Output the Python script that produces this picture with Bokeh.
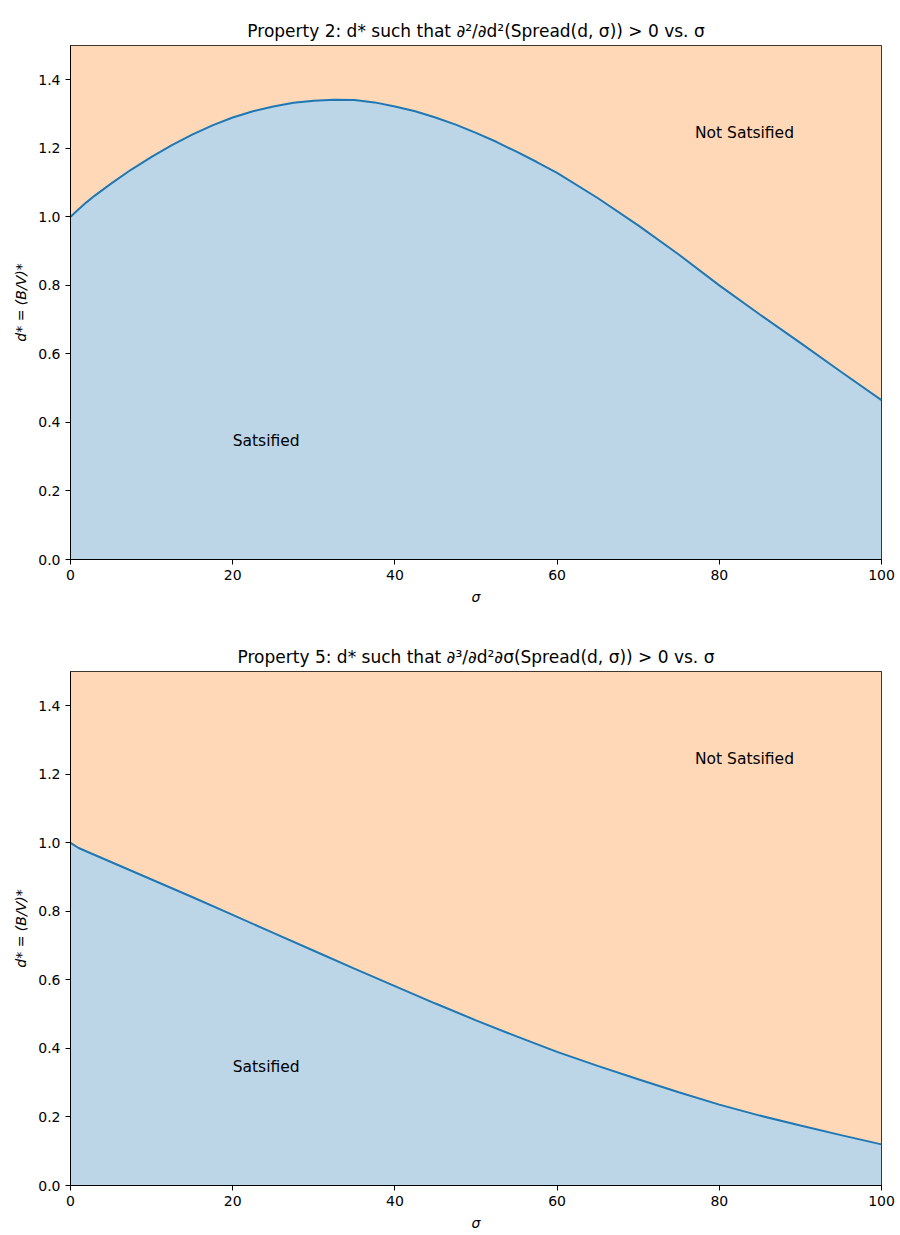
from bokeh.plotting import figure
from bokeh.layouts import column
from bokeh.models import ColumnDataSource, FixedTicker, Range1d, NumeralTickFormatter
from bokeh.core.properties import value
from bokeh.embed import file_html
from bokeh.resources import INLINE

sigma1 = [0, 1, 2, 3, 5, 7.5, 10, 12.5, 15, 17.5, 20, 22.5, 25, 27.5, 30, 32.5, 35, 37.5, 40, 42.5, 45, 47.5,
          50, 52.5, 55, 57.5, 60, 65, 70, 75, 80, 85, 90, 95, 100]
dstar1 = [1.0, 1.022, 1.043, 1.062, 1.097, 1.138, 1.175, 1.209, 1.24, 1.267, 1.29, 1.308, 1.322, 1.333, 1.339,
          1.342, 1.341, 1.334, 1.322, 1.308, 1.29, 1.269, 1.245, 1.219, 1.19, 1.16, 1.128, 1.055, 0.975, 0.89,
          0.80, 0.715, 0.632, 0.548, 0.465]
sigma2 = [0, 1, 5, 10, 15, 20, 25, 30, 35, 40, 45, 50, 55, 60, 65, 70, 75, 80, 85, 90, 95, 100]
dstar2 = [1.0, 0.985, 0.944, 0.893, 0.842, 0.79, 0.737, 0.685, 0.633, 0.582, 0.531, 0.482, 0.435, 0.39, 0.349,
          0.31, 0.272, 0.236, 0.204, 0.175, 0.147, 0.12]

titles = ["Property 2: d* such that ∂²/∂d²(Spread(d, σ)) > 0 vs. σ",
          "Property 5: d* such that ∂³/∂d²∂σ(Spread(d, σ)) > 0 vs. σ"]
label_texts = ["Satsified", "Not Satsified"]
label_x = [20, 77]
label_y = [0.345, 1.245]
x_ticks = [0, 20, 40, 60, 80, 100]
y_ticks = [0.0, 0.2, 0.4, 0.6, 0.8, 1.0, 1.2, 1.4]
y_max = 1.5

FONT = "DejaVu Sans"
BLUE = "#1f77b4"
BLUE_FILL = "#bcd6e8"
ORANGE_FILL = "#ffd9b7"


def make(sig, ds, title, h, top, bottom):
    p = figure(width=900, height=h, output_backend="svg", toolbar_location=None,
               x_range=Range1d(0, 100), y_range=Range1d(0, y_max),
               min_border_left=70, min_border_right=19, min_border_top=top, min_border_bottom=bottom)
    p.title.text = title
    p.title.align = "center"
    p.title.text_font = FONT
    p.title.text_font_size = "17px"
    p.title.text_font_style = "normal"
    p.title.text_color = "black"
    src = ColumnDataSource(dict(x=sig, y=ds, top=[y_max] * len(sig), zero=[0] * len(sig)))
    p.varea(x="x", y1="y", y2="top", source=src, fill_color=ORANGE_FILL)
    p.varea(x="x", y1="zero", y2="y", source=src, fill_color=BLUE_FILL)
    p.line(x="x", y="y", source=src, line_color=BLUE, line_width=2)
    lsrc = ColumnDataSource(dict(x=label_x, y=label_y, t=label_texts))
    p.text(x="x", y="y", text="t", source=lsrc, text_font=value(FONT), text_font_size="15.5px",
           text_baseline="middle", text_align="left", text_color="black")
    p.xgrid.visible = False
    p.ygrid.visible = False
    p.outline_line_color = "black"
    p.outline_line_width = 1
    for ax in (p.xaxis[0], p.yaxis[0]):
        ax.minor_tick_line_color = None
        ax.major_tick_out = 5
        ax.major_tick_in = 0
        ax.axis_line_color = "black"
        ax.major_tick_line_color = "black"
        ax.major_label_text_font = FONT
        ax.major_label_text_font_size = "14px"
        ax.major_label_text_color = "black"
        ax.axis_label_text_font = FONT
        ax.axis_label_text_font_size = "14px"
        ax.axis_label_text_font_style = "italic"
        ax.axis_label_text_color = "black"
        ax.axis_label_standoff = 6
    p.xaxis.ticker = FixedTicker(ticks=x_ticks)
    p.yaxis.ticker = FixedTicker(ticks=y_ticks)
    p.yaxis.formatter = NumeralTickFormatter(format="0.0")
    p.xaxis.axis_label = "σ"
    p.yaxis.axis_label = "d* = (B/V)*"
    return p


p1 = make(sigma1, dstar1, titles[0], 617, 45, 58)
p2 = make(sigma2, dstar2, titles[1], 618, 54, 50)
p = column(p1, p2)
open("out.html", "w").write(file_html(p, INLINE))
